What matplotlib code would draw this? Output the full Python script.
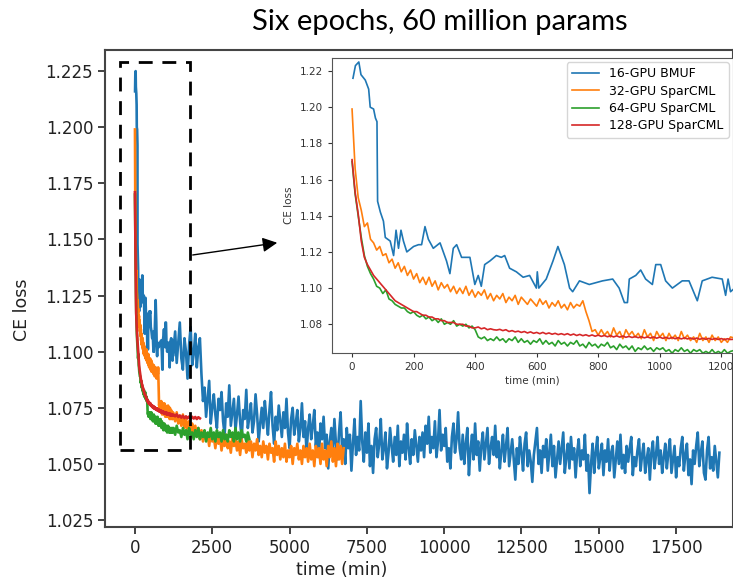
import numpy as np
import matplotlib
matplotlib.use('Agg')
import matplotlib.pyplot as plt
from matplotlib.patches import Rectangle

# 16-GPU BMUF, first part (time in min, CE loss)
blue_t_a = [3, 11, 22, 29, 43, 54, 59, 70, 76, 81, 83, 92, 102, 108, 124, 135, 143, 151,
            159, 167, 178, 200, 216, 226, 237, 248, 264, 286, 307, 318, 329, 340, 356, 383,
            399, 410, 420, 431, 448, 469, 485, 496, 512, 534, 556, 577, 599, 602, 607, 631,
            653, 669, 690, 707, 717, 739, 771, 814, 847, 868, 885, 895, 901, 922, 938, 954,
            976, 987, 1003, 1019, 1041, 1073, 1095, 1122, 1138, 1170, 1203, 1214, 1222, 1230]
blue_v_a = [1.216, 1.223, 1.225, 1.218, 1.215, 1.210, 1.200, 1.199, 1.194, 1.192, 1.148,
            1.142, 1.137, 1.128, 1.126, 1.118, 1.132, 1.122, 1.132, 1.126, 1.120, 1.123,
            1.124, 1.124, 1.134, 1.127, 1.122, 1.125, 1.115, 1.108, 1.122, 1.124, 1.117,
            1.117, 1.102, 1.107, 1.101, 1.113, 1.115, 1.118, 1.117, 1.118, 1.111, 1.109,
            1.106, 1.107, 1.100, 1.109, 1.100, 1.105, 1.115, 1.123, 1.113, 1.100, 1.098,
            1.104, 1.102, 1.104, 1.105, 1.100, 1.092, 1.092, 1.105, 1.107, 1.110, 1.105,
            1.102, 1.113, 1.113, 1.104, 1.100, 1.104, 1.104, 1.093, 1.104, 1.106, 1.105,
            1.096, 1.105, 1.098]
# 16-GPU BMUF, rest of the run, every 50 min from 1250 min
blue_v_b = [1.101, 1.109, 1.095, 1.104, 1.113, 1.097, 1.092, 1.106, 1.100, 1.088,
            1.103, 1.111, 1.094, 1.099, 1.108, 1.093, 1.102, 1.106, 1.090, 1.078,
            1.084, 1.071, 1.079, 1.087, 1.068, 1.075, 1.081, 1.072, 1.066, 1.079,
            1.074, 1.082, 1.069, 1.063, 1.077, 1.071, 1.085, 1.067, 1.073, 1.079,
            1.065, 1.072, 1.080, 1.069, 1.061, 1.074, 1.070, 1.083, 1.066, 1.071,
            1.077, 1.064, 1.069, 1.081, 1.072, 1.060, 1.068, 1.075, 1.066, 1.078,
            1.070, 1.063, 1.074, 1.082, 1.067, 1.059, 1.071, 1.065, 1.076, 1.069,
            1.062, 1.073, 1.066, 1.079, 1.064, 1.057, 1.070, 1.075, 1.063, 1.068,
            1.074, 1.060, 1.066, 1.077, 1.062, 1.069, 1.055, 1.066, 1.072, 1.061,
            1.067, 1.074, 1.058, 1.064, 1.053, 1.068, 1.061, 1.071, 1.057, 1.063,
            1.048, 1.060, 1.066, 1.055, 1.070, 1.059, 1.052, 1.064, 1.073, 1.056,
            1.061, 1.050, 1.066, 1.057, 1.063, 1.047, 1.059, 1.070, 1.054, 1.062,
            1.056, 1.078, 1.060, 1.051, 1.064, 1.055, 1.068, 1.049, 1.058, 1.046,
            1.061, 1.066, 1.053, 1.059, 1.070, 1.052, 1.057, 1.064, 1.048, 1.055,
            1.066, 1.058, 1.051, 1.062, 1.054, 1.067, 1.049, 1.060, 1.055, 1.063,
            1.052, 1.068, 1.057, 1.050, 1.061, 1.054, 1.065, 1.058, 1.051, 1.062,
            1.056, 1.064, 1.053, 1.067, 1.059, 1.071, 1.055, 1.062, 1.057, 1.069,
            1.053, 1.060, 1.074, 1.056, 1.063, 1.058, 1.066, 1.051, 1.057, 1.048,
            1.062, 1.068, 1.055, 1.061, 1.073, 1.057, 1.052, 1.063, 1.050, 1.059,
            1.066, 1.045, 1.056, 1.063, 1.052, 1.068, 1.054, 1.060, 1.047, 1.058,
            1.064, 1.052, 1.059, 1.066, 1.050, 1.057, 1.062, 1.054, 1.067, 1.053,
            1.060, 1.048, 1.056, 1.063, 1.051, 1.058, 1.066, 1.049, 1.055, 1.061,
            1.052, 1.043, 1.057, 1.050, 1.062, 1.055, 1.047, 1.059, 1.064, 1.049,
            1.056, 1.051, 1.042, 1.054, 1.060, 1.066, 1.050, 1.056, 1.046, 1.058,
            1.053, 1.061, 1.047, 1.055, 1.063, 1.049, 1.058, 1.044, 1.052, 1.060,
            1.050, 1.057, 1.064, 1.046, 1.053, 1.059, 1.048, 1.062, 1.052, 1.057,
            1.044, 1.055, 1.061, 1.049, 1.056, 1.052, 1.063, 1.047, 1.054, 1.037,
            1.050, 1.059, 1.046, 1.055, 1.062, 1.048, 1.053, 1.059, 1.045, 1.056,
            1.051, 1.061, 1.047, 1.055, 1.058, 1.044, 1.052, 1.060, 1.050, 1.063,
            1.048, 1.054, 1.046, 1.058, 1.051, 1.057, 1.062, 1.045, 1.053, 1.049,
            1.056, 1.061, 1.047, 1.054, 1.059, 1.046, 1.052, 1.057, 1.043, 1.055,
            1.060, 1.048, 1.054, 1.062, 1.050, 1.056, 1.046, 1.053, 1.059, 1.048,
            1.055, 1.061, 1.046, 1.052, 1.058, 1.044, 1.053, 1.049, 1.057, 1.062,
            1.047, 1.054, 1.059, 1.045, 1.052, 1.041, 1.056, 1.050, 1.058, 1.064,
            1.049, 1.055, 1.060, 1.046, 1.043, 1.056, 1.062, 1.048, 1.053, 1.047,
            1.058, 1.051, 1.044, 1.055]

# 32-GPU SparCML, every 10 min up to 1230 min, then every 50 min
orange_v_a = [1.199, 1.166, 1.150, 1.143, 1.134, 1.136, 1.127, 1.125, 1.121, 1.123,
              1.118, 1.119, 1.114, 1.116, 1.111, 1.114, 1.109, 1.112, 1.107, 1.110,
              1.105, 1.108, 1.103, 1.106, 1.102, 1.106, 1.101, 1.104, 1.099, 1.103,
              1.100, 1.102, 1.098, 1.101, 1.097, 1.100, 1.097, 1.101, 1.096, 1.099,
              1.095, 1.098, 1.096, 1.099, 1.094, 1.097, 1.093, 1.096, 1.094, 1.097,
              1.092, 1.095, 1.093, 1.096, 1.091, 1.095, 1.093, 1.091, 1.094, 1.092,
              1.090, 1.094, 1.091, 1.093, 1.089, 1.092, 1.090, 1.093, 1.089, 1.091,
              1.088, 1.092, 1.089, 1.091, 1.090, 1.093, 1.087, 1.082, 1.076, 1.077,
              1.074, 1.077, 1.074, 1.076, 1.073, 1.078, 1.074, 1.076, 1.072, 1.077,
              1.074, 1.076, 1.073, 1.075, 1.072, 1.077, 1.073, 1.075, 1.071, 1.076,
              1.073, 1.075, 1.071, 1.075, 1.072, 1.074, 1.071, 1.076, 1.072, 1.074,
              1.071, 1.073, 1.070, 1.075, 1.071, 1.073, 1.070, 1.074, 1.071, 1.073,
              1.070, 1.072, 1.070, 1.073]
orange_v_b = [1.072, 1.069, 1.073, 1.068, 1.071, 1.067, 1.072, 1.066, 1.070, 1.065,
              1.069, 1.064, 1.068, 1.062, 1.067, 1.063, 1.066, 1.061, 1.065, 1.060,
              1.064, 1.061, 1.063, 1.058, 1.064, 1.060, 1.062, 1.057, 1.063, 1.059,
              1.062, 1.056, 1.061, 1.058, 1.063, 1.057, 1.060, 1.055, 1.062, 1.058,
              1.061, 1.056, 1.060, 1.054, 1.061, 1.057, 1.059, 1.055, 1.062, 1.056,
              1.060, 1.053, 1.059, 1.056, 1.061, 1.054, 1.058, 1.053, 1.060, 1.055,
              1.058, 1.052, 1.059, 1.055, 1.057, 1.051, 1.060, 1.054, 1.058, 1.052,
              1.057, 1.053, 1.059, 1.051, 1.056, 1.053, 1.058, 1.050, 1.057, 1.054,
              1.059, 1.052, 1.056, 1.050, 1.058, 1.053, 1.057, 1.051, 1.059, 1.052,
              1.056, 1.049, 1.058, 1.053, 1.057, 1.050, 1.059, 1.052, 1.056, 1.049,
              1.058, 1.053, 1.060, 1.051, 1.057, 1.049, 1.059, 1.052, 1.058, 1.050,
              1.057]

# 64-GPU SparCML
green_v_a = [1.170, 1.152, 1.140, 1.128, 1.118, 1.112, 1.108, 1.105, 1.101, 1.100,
             1.097, 1.099, 1.094, 1.093, 1.091, 1.090, 1.089, 1.089, 1.087, 1.086,
             1.087, 1.085, 1.084, 1.085, 1.083, 1.084, 1.082, 1.083, 1.081, 1.083,
             1.080, 1.081, 1.080, 1.082, 1.079, 1.080, 1.079, 1.080, 1.078, 1.079,
             1.077, 1.073, 1.072, 1.073, 1.071, 1.072, 1.071, 1.073, 1.071, 1.072,
             1.070, 1.072, 1.071, 1.073, 1.070, 1.072, 1.070, 1.071, 1.069, 1.071,
             1.070, 1.072, 1.069, 1.071, 1.069, 1.070, 1.068, 1.071, 1.069, 1.070,
             1.068, 1.070, 1.069, 1.071, 1.068, 1.069, 1.067, 1.070, 1.068, 1.069,
             1.067, 1.069, 1.068, 1.070, 1.067, 1.068, 1.066, 1.069, 1.067, 1.068,
             1.066, 1.068, 1.065, 1.067, 1.066, 1.068, 1.066, 1.067, 1.065, 1.067,
             1.066, 1.067, 1.065, 1.066, 1.064, 1.066, 1.065, 1.067, 1.065, 1.066,
             1.064, 1.066, 1.065, 1.066, 1.064, 1.065, 1.064, 1.066, 1.064, 1.065,
             1.064, 1.066, 1.064, 1.065]
green_v_b = [1.066, 1.063, 1.067, 1.064, 1.065, 1.062, 1.066, 1.063, 1.065, 1.061,
             1.066, 1.063, 1.064, 1.061, 1.065, 1.062, 1.066, 1.061, 1.064, 1.062,
             1.065, 1.060, 1.064, 1.062, 1.066, 1.061, 1.064, 1.060, 1.065, 1.062,
             1.064, 1.060, 1.065, 1.061, 1.063, 1.060, 1.065, 1.062, 1.064, 1.060,
             1.066, 1.061, 1.064, 1.060, 1.065, 1.062, 1.063, 1.060, 1.064, 1.061]

# 128-GPU SparCML
red_v_a = [1.171, 1.153, 1.141, 1.126, 1.117, 1.113, 1.110, 1.107, 1.105, 1.103,
           1.101, 1.099, 1.097, 1.095, 1.093, 1.092, 1.091, 1.090, 1.089, 1.088,
           1.087, 1.087, 1.086, 1.085, 1.085, 1.084, 1.084, 1.083, 1.083, 1.082,
           1.082, 1.081, 1.081, 1.081, 1.080, 1.080, 1.080, 1.079, 1.079, 1.078,
           1.078, 1.0785, 1.0775, 1.078, 1.077, 1.0775, 1.077, 1.0768, 1.0772, 1.0765,
           1.077, 1.076, 1.0765, 1.0758, 1.0762, 1.0755, 1.076, 1.0752, 1.0758, 1.075,
           1.0755, 1.0748, 1.0755, 1.0747, 1.0752, 1.0745, 1.075, 1.0743, 1.0748, 1.0742,
           1.0748, 1.074, 1.0746, 1.0738, 1.0744, 1.0737, 1.0742, 1.0735, 1.0741, 1.0734,
           1.074, 1.0733, 1.0738, 1.0731, 1.0737, 1.073, 1.0736, 1.0729, 1.0735, 1.0728,
           1.0733, 1.0727, 1.0732, 1.0726, 1.0731, 1.0725, 1.073, 1.0724, 1.073, 1.0723,
           1.0729, 1.0722, 1.0728, 1.0721, 1.0727, 1.072, 1.0726, 1.0719, 1.0725, 1.0719,
           1.0724, 1.0718, 1.0724, 1.0717, 1.0723, 1.0717, 1.0722, 1.0716, 1.0722, 1.0716,
           1.0721, 1.0715, 1.072, 1.0716]
red_v_b = [1.0718, 1.0712, 1.0721, 1.0709, 1.0716, 1.0706, 1.0714, 1.0704, 1.0712,
           1.0703, 1.0711, 1.0701, 1.071, 1.0702, 1.0709, 1.07, 1.0708, 1.0703]

labels = ['16-GPU BMUF', '32-GPU SparCML', '64-GPU SparCML', '128-GPU SparCML']
colors = ['#1f77b4', '#ff7f0e', '#2ca02c', '#d62728']


def time_axis(n_a, n_b):
    # 10 min steps for the detailed part, 50 min steps after 1230 min
    return np.concatenate([10 * np.arange(n_a), 1250 + 50 * np.arange(n_b)])


blue_t = np.concatenate([blue_t_a, 1250 + 50 * np.arange(len(blue_v_b))])
blue_v = np.array(blue_v_a + blue_v_b)
series = [
    (blue_t, blue_v),
    (time_axis(len(orange_v_a), len(orange_v_b)), np.array(orange_v_a + orange_v_b)),
    (time_axis(len(green_v_a), len(green_v_b)), np.array(green_v_a + green_v_b)),
    (time_axis(len(red_v_a), len(red_v_b)), np.array(red_v_a + red_v_b)),
]

fig = plt.figure(figsize=(7.33, 5.8), dpi=100)

# main axes
ax = fig.add_axes([0.1432, 0.0914, 0.8568, 0.8224])
for (t, v), c in zip(series, colors):
    ax.plot(t, v, color=c, lw=1.9)
ax.set_xlim(-970, 19340)
ax.set_ylim(1.0219, 1.2344)
ax.set_xticks([0, 2500, 5000, 7500, 10000, 12500, 15000, 17500])
ax.set_yticks([1.025, 1.050, 1.075, 1.100, 1.125, 1.150, 1.175, 1.200, 1.225])
ax.yaxis.set_major_formatter(matplotlib.ticker.FormatStrFormatter('%.3f'))
ax.tick_params(labelsize=12, colors='#222222', width=1.2, length=5)
for s in ax.spines.values():
    s.set_linewidth(1.5)
    s.set_color('#444444')
ax.set_xlabel('time (min)', fontsize=12.5, color='#222222')
ax.xaxis.set_label_coords(0.377, -0.072)
ax.set_ylabel('CE loss', fontsize=12.5, color='#222222')
ax.yaxis.set_label_coords(-0.118, 0.455)

# dashed box marking the zoomed region
box = Rectangle((-485, 1.0562), 2264, 1.229 - 1.0562, fill=False, ec='black',
                lw=2, ls=(0, (5, 3.5)), zorder=5)
ax.add_patch(box)
ax.annotate('', xy=(4690, 1.1487), xytext=(1779, 1.1429),
            arrowprops=dict(arrowstyle='-|>', color='black', lw=1, mutation_scale=22))

# inset
ins = fig.add_axes([0.453, 0.391, 0.547, 0.509])
for (t, v), c, lab in zip(series, colors, labels):
    m = t <= 1300
    ins.plot(t[m], v[m], color=c, lw=1.2, label=lab)
ins.set_xlim(-65, 1238)
ins.set_ylim(1.064, 1.2272)
ins.set_xticks([0, 200, 400, 600, 800, 1000, 1200])
ins.set_yticks([1.08, 1.10, 1.12, 1.14, 1.16, 1.18, 1.20, 1.22])
ins.tick_params(labelsize=7.5, colors='#333333', length=3)
for s in ins.spines.values():
    s.set_color('#555555')
ins.set_xlabel('time (min)', fontsize=7.5, color='#333333', labelpad=2)
ins.set_ylabel('CE loss', fontsize=7.5, color='#333333')
ins.legend(loc='upper right', fontsize=9, frameon=True, borderaxespad=0.35,
           handlelength=2.2, labelspacing=0.35)

fig.text(0.600, 0.962, 'Six epochs, 60 million params', ha='center', va='center',
         fontsize=21, family='Lato', color='black')

fig.savefig('out.png', dpi=100)
